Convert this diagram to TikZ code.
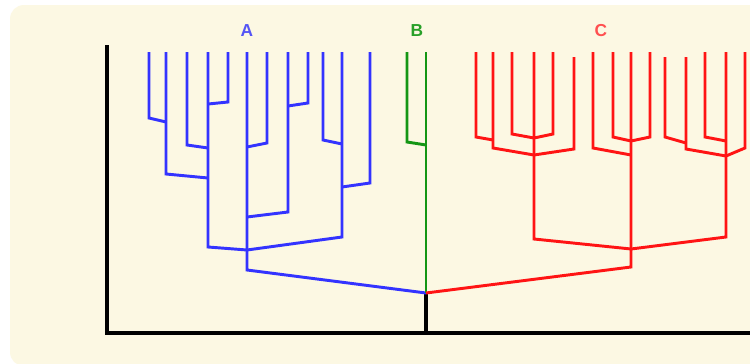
\documentclass[tikz,border=0pt]{standalone}
\usepackage{fontspec}
\setmainfont{Liberation Sans}
\definecolor{panel}{RGB}{252,248,227}
\definecolor{cladeA}{RGB}{51,51,255}
\definecolor{cladeB}{RGB}{20,150,20}
\definecolor{cladeC}{RGB}{255,20,20}
\definecolor{labA}{RGB}{85,85,245}
\definecolor{labB}{RGB}{40,160,40}
\definecolor{labC}{RGB}{255,80,80}
% a branch: leaf top, foot of the leaf, then the slanted join to its parent
\newcommand{\branch}[5]{%
  \coordinate (#1t) at (#2,#3);
  \coordinate (#1b) at (#2,#4);
  \draw[#5] (#1t) -- (#1b) -- (#1j);
}
\begin{document}
\begin{tikzpicture}[x=0.75pt,y=-0.75pt,
  axis/.style={line width=2.3pt,black},
  blin/.style={line width=2.2pt,cladeA},
  glin/.style={line width=2.2pt,cladeB},
  rlin/.style={line width=2.2pt,cladeC},
  lab/.style={font=\bfseries\fontsize{13}{15}\selectfont}]
\useasboundingbox (0,0) rectangle (750,364);
\clip (0,0) rectangle (750,364);
\fill[white] (0,0) rectangle (750,364);
\fill[panel,rounded corners=10.5pt] (10,5) rectangle (790,366);

% axes
\coordinate (yaxtop) at (107,45);
\coordinate (origin) at (107,333);
\coordinate (xaxend) at (752,333);
\coordinate (root) at (426,293);
\coordinate (rootfoot) at (426,333);
\draw[axis] (yaxtop) -- (origin) -- (xaxend);
\draw[axis] (root) -- (rootfoot);

% ---- clade A ----
\coordinate (a1j) at (166,122);
\coordinate (a2j) at (208,178);
\coordinate (a3j) at (208,148);
\coordinate (a4j) at (208,104);
\coordinate (a5j) at (247,250);
\coordinate (a6j) at (247,147);
\coordinate (a7j) at (288,106);
\coordinate (a8j) at (247,217);
\coordinate (a9j) at (342,144);
\coordinate (a10j) at (342,187);
\coordinate (a11j) at (247,250);
\coordinate (a12j) at (root);
\branch{a1}{149}{52}{118}{blin}
\branch{a2}{166}{52}{174}{blin}
\branch{a3}{187}{52}{145}{blin}
\branch{a4}{228}{52}{102}{blin}
\branch{a5}{208}{52}{247}{blin}
\branch{a6}{267}{52}{143}{blin}
\branch{a7}{308}{52}{103}{blin}
\branch{a8}{288}{52}{212}{blin}
\branch{a9}{323}{52}{140}{blin}
\branch{a10}{370}{52}{183}{blin}
\branch{a11}{342}{52}{237}{blin}
\branch{a12}{247}{52}{270}{blin}

% ---- clade B ----
\coordinate (b1j) at (426,145);
\branch{b1}{407}{52}{142}{glin}
\coordinate (b2t) at (426,52);
\draw[glin] (b2t) -- (root);

% ---- clade C ----
\coordinate (c1j) at (493,140);
\coordinate (c2j) at (534,155);
\coordinate (c3j) at (534,138);
\coordinate (c4j) at (534,138);
\coordinate (c5j) at (534,155);
\coordinate (c6j) at (631,249);
\coordinate (c7j) at (631,155);
\coordinate (c8j) at (631,141);
\coordinate (c9j) at (631,141);
\coordinate (c10j) at (686,143);
\coordinate (c11j) at (726,156);
\coordinate (c12j) at (726,141);
\coordinate (c13j) at (726,156);
\coordinate (c14j) at (631,249);
\coordinate (c15j) at (root);
\branch{c1}{476}{52}{137}{rlin}
\branch{c2}{493}{52}{148}{rlin}
\branch{c3}{512}{52}{134}{rlin}
\branch{c4}{553}{52}{134}{rlin}
\branch{c5}{574}{57}{149}{rlin}
\branch{c6}{534}{52}{239}{rlin}
\branch{c7}{593}{52}{148}{rlin}
\branch{c8}{613}{52}{137}{rlin}
\branch{c9}{650}{52}{137}{rlin}
\branch{c10}{665}{57}{137}{rlin}
\branch{c11}{686}{57}{149}{rlin}
\branch{c12}{705}{52}{137}{rlin}
\branch{c13}{745}{52}{148}{rlin}
\branch{c14}{726}{52}{237}{rlin}
\branch{c15}{631}{52}{267}{rlin}

% clade labels
\node[lab,text=labA] (labelA) at (247,31) {A};
\node[lab,text=labB] (labelB) at (417,31) {B};
\node[lab,text=labC] (labelC) at (601,31) {C};
\end{tikzpicture}
\end{document}
